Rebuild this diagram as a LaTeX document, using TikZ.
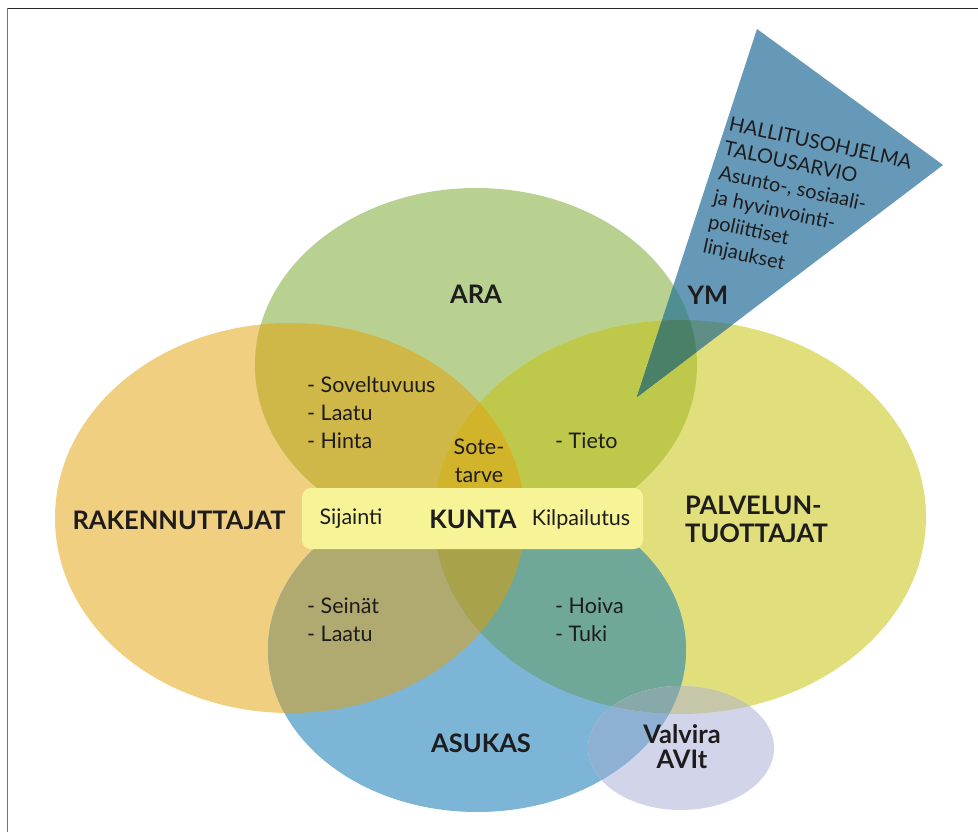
\documentclass[tikz,border=0pt]{standalone}
\usepackage{fontspec}
\setmainfont{Lato}
\definecolor{cO}{HTML}{F0CF80}
\definecolor{cG}{HTML}{B8D190}
\definecolor{cY}{HTML}{E1DE7C}
\definecolor{cB}{HTML}{7DB5D6}
\definecolor{cL}{HTML}{D2D5EA}
\definecolor{cT}{HTML}{6699B8}
\definecolor{cOG}{HTML}{CFB848}
\definecolor{cGY}{HTML}{BEC84A}
\definecolor{cOY}{HTML}{D8C850}
\definecolor{cOB}{HTML}{B0AA70}
\definecolor{cYB}{HTML}{6FA898}
\definecolor{cGB}{HTML}{8FB8A0}
\definecolor{cOGY}{HTML}{D2B42A}
\definecolor{cOYB}{HTML}{A8A24A}
\definecolor{cLB}{HTML}{8DB0D3}
\definecolor{cLY}{HTML}{C6C7A8}
\definecolor{cLYB}{HTML}{87A9A9}
\definecolor{cTG}{HTML}{4F8F92}
\definecolor{cTY}{HTML}{5F8E87}
\definecolor{cTGY}{HTML}{4A8068}
\definecolor{cBox}{HTML}{F7F497}
\definecolor{txt}{HTML}{1E1C1D}
\begin{document}
\begin{tikzpicture}[x=1pt,y=-1pt,
  lbl/.style={font=\fontsize{21.5}{28}\selectfont, text=txt, inner sep=0pt},
  bigl/.style={font=\fontsize{25.5}{28}\selectfont\bfseries, text=txt, inner sep=0pt},
  tritext/.style={font=\fontsize{20}{25}\selectfont, text=txt, inner sep=0pt},
  framel/.style={line width=1.4pt}]
\useasboundingbox (0,0) rectangle (978,832);
\def\PO{(290,518) ellipse [x radius=235pt, y radius=195pt]}
\def\PG{(476,365) ellipse [x radius=221pt, y radius=177pt]}
\def\PY{(680,517) ellipse [x radius=246pt, y radius=197pt]}
\def\PB{(477,650) ellipse [x radius=209pt, y radius=162pt]}
\def\PL{(681,748) ellipse [x radius=93pt, y radius=62pt]}
\def\PT{(757,29) -- (943,165) -- (637,397) -- cycle}
% frame
\coordinate (ftl) at (7.5,8.5);
\coordinate (ftr) at (978,8.5);
\coordinate (fbl) at (7.5,832);
\draw[framel, black!85] (ftl) -- (ftr);
\draw[framel, black!55] (ftl) -- (fbl);
% single regions
\fill[cO] \PO;
\fill[cG] \PG;
\fill[cY] \PY;
\fill[cB] \PB;
% pairs
\begin{scope}\clip \PO; \fill[cOG] \PG; \end{scope}
\begin{scope}\clip \PG; \fill[cGY] \PY; \end{scope}
\begin{scope}\clip \PO; \fill[cOY] \PY; \end{scope}
\begin{scope}\clip \PO; \fill[cOB] \PB; \end{scope}
\begin{scope}\clip \PY; \fill[cYB] \PB; \end{scope}
\begin{scope}\clip \PG; \fill[cGB] \PB; \end{scope}
% triples
\begin{scope}\clip \PO; \clip \PG; \fill[cOGY] \PY; \end{scope}
\begin{scope}\clip \PO; \clip \PY; \fill[cOYB] \PB; \end{scope}
% lavender
\fill[cL] \PL;
\begin{scope}\clip \PL; \fill[cLB] \PB; \end{scope}
\begin{scope}\clip \PL; \fill[cLY] \PY; \end{scope}
\begin{scope}\clip \PL; \clip \PY; \fill[cLYB] \PB; \end{scope}
% triangle
\fill[cT] \PT;
\begin{scope}\clip \PT; \fill[cTG] \PG; \end{scope}
\begin{scope}\clip \PT; \fill[cTY] \PY; \end{scope}
\begin{scope}\clip \PT; \clip \PG; \fill[cTGY] \PY; \end{scope}
% KUNTA box
\node[fill=cBox, rounded corners=9pt, minimum width=341pt, minimum height=61pt, inner sep=0pt] (kbox) at (472.5,518.5) {};
\node[lbl] (sij) at (351,519) {Sijainti};
\node[bigl] (kunta) at (473,519) {KUNTA};
\node[lbl] (kil) at (581,519) {Kilpailutus};
% big labels
\node[bigl] (ara) at (476,294) {ARA};
\node[bigl] (ym) at (708,295) {YM};
\node[bigl] (rak) at (179,520) {RAKENNUTTAJAT};
\node[bigl, align=left, anchor=west] (pal) at (685,519) {PALVELUN-\\TUOTTAJAT};
\node[bigl] (asu) at (481,743) {ASUKAS};
\node[bigl, align=center, font=\fontsize{25.5}{25}\selectfont\bfseries] (val) at (682,747) {Valvira\\AVIt};
% lists
\node[lbl, align=left, anchor=west] (l1) at (307,413) {- Soveltuvuus\\- Laatu\\- Hinta};
\node[lbl, align=center] (sote) at (479,461) {Sote-\\tarve};
\node[lbl, anchor=west] (tieto) at (555,441) {- Tieto};
\node[lbl, align=left, anchor=west] (l2) at (307,620) {- Seinät\\- Laatu};
\node[lbl, align=left, anchor=west] (l3) at (555,620) {- Hoiva\\- Tuki};
% triangle text
\node[tritext, rotate=-12, anchor=north west, align=left] (tri) at (731,116) {HALLITUSOHJELMA\\TALOUSARVIO\\Asunto-, sosiaali-\\ja hyvinvointi-\\poliittiset\\linjaukset};
\end{tikzpicture}
\end{document}
